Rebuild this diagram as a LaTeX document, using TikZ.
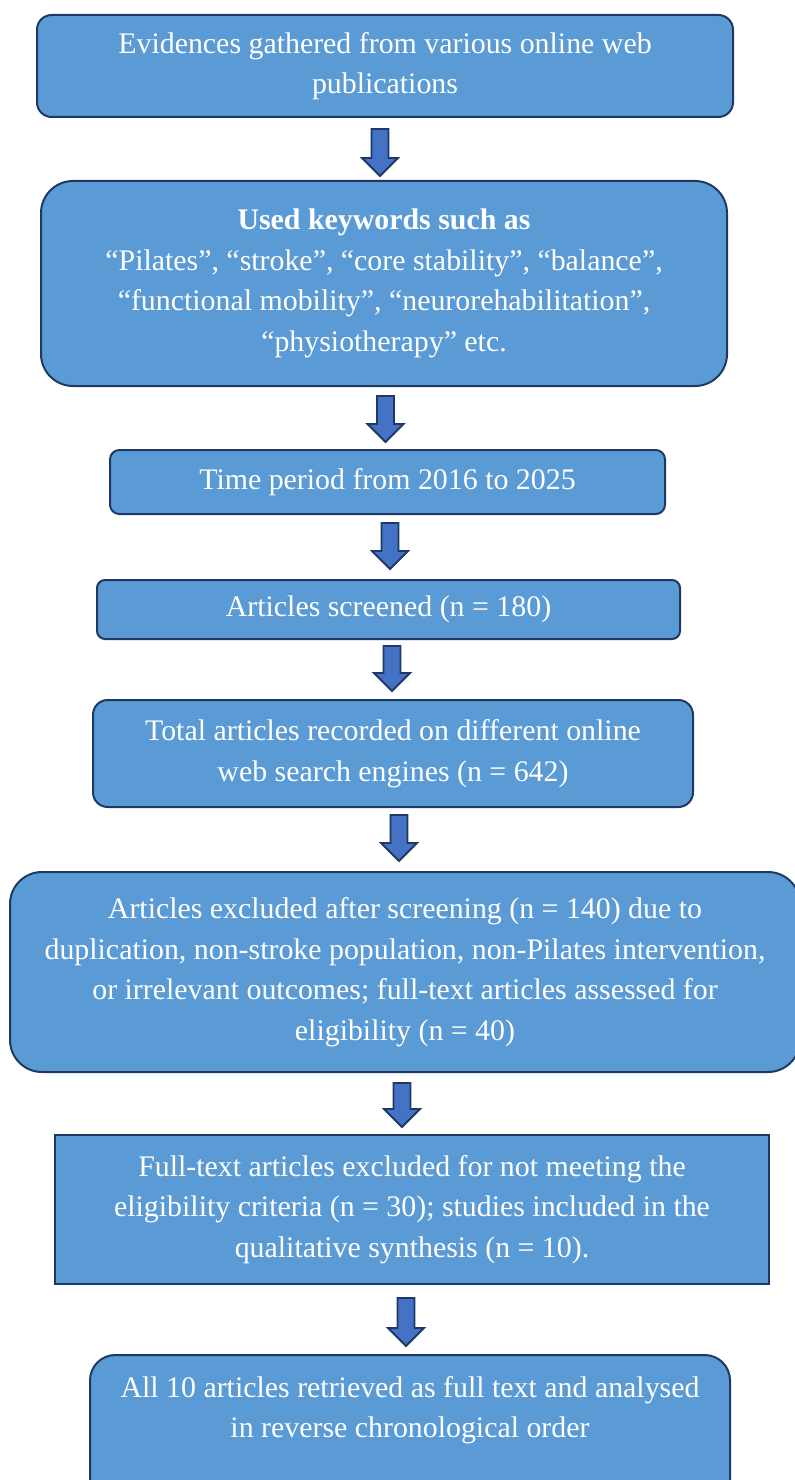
\documentclass[tikz,border=0pt]{standalone}
\usepackage{fontspec}
\setmainfont{Liberation Serif}
\usetikzlibrary{calc}

\definecolor{boxfill}{HTML}{5B9BD5}
\definecolor{boxline}{HTML}{1F3864}
\definecolor{arrowfill}{HTML}{4472C4}

\tikzset{
    flowbox/.style={draw=boxline, fill=boxfill, line width=1.5pt, text=white, align=center,
        inner sep=0pt, font=\fontsize{22.4}{30.4}\selectfont},
    blockarrow/.style={draw=boxline, fill=arrowfill, line width=1.4pt, line join=miter}
}

% block arrow from a top point down to a tip point
\newcommand{\flowarrow}[2]{%
    \draw[blockarrow] let \p1=(#1), \p2=(#2) in
        (\x1-6.4pt,\y1) -- (\x1+6.4pt,\y1) -- (\x1+6.4pt,\y2+13.5pt) -- (\x1+13.5pt,\y2+13.5pt)
        -- (\x1,\y2) -- (\x1-13.5pt,\y2+13.5pt) -- (\x1-6.4pt,\y2+13.5pt) -- cycle;}

\begin{document}
\begin{tikzpicture}[x=0.75pt, y=-0.75pt]
    \useasboundingbox (0,0) rectangle (795,1480);
    \path   node[flowbox, rounded corners=11pt, minimum width=696*0.75pt, minimum height=102*0.75pt] (A) at (385, 66)
                {Evidences gathered from various online web\\publications}
            node[flowbox, rounded corners=24pt, minimum width=686*0.75pt, minimum height=205*0.75pt] (B) at (384, 283.5)
                {\textbf{Used keywords such as}\\“Pilates”, “stroke”, “core stability”, “balance”,\\“functional mobility”, “neurorehabilitation”,\\“physiotherapy” etc.}
            node[flowbox, rounded corners=7pt, minimum width=555*0.75pt, minimum height=64*0.75pt] (C) at (387.5, 482)
                {Time period from 2016 to 2025}
            node[flowbox, rounded corners=6pt, minimum width=583*0.75pt, minimum height=59*0.75pt] (D) at (388.5, 609.5)
                {Articles screened (n = 180)}
            node[flowbox, rounded corners=11pt, minimum width=600*0.75pt, minimum height=107*0.75pt] (E) at (393, 753.5)
                {Total articles recorded on different online\\web search engines (n = 642)}
            node[flowbox, rounded corners=24pt, minimum width=790*0.75pt, minimum height=200*0.75pt] (F) at (405, 972)
                {Articles excluded after screening (n = 140) due to\\duplication, non-stroke population, non-Pilates intervention,\\or irrelevant outcomes; full-text articles assessed for\\eligibility (n = 40)}
            node[flowbox, minimum width=714*0.75pt, minimum height=149*0.75pt] (G) at (412, 1209.5)
                {Full-text articles excluded for not meeting the\\eligibility criteria (n = 30); studies included in the\\qualitative synthesis (n = 10).}
            node[flowbox, rounded corners=19pt, minimum width=640*0.75pt, minimum height=180*0.75pt, anchor=north] (H) at (410, 1354) {}
            node[flowbox, draw=none, fill=none] (Htext) at (410, 1410)
                {All 10 articles retrieved as full text and analysed\\in reverse chronological order};
    \flowarrow{$(A.south)+(-5,11)$}{$(B.north)+(-5,-4)$}
    \flowarrow{$(B.south)+(1.5,9)$}{$(C.north)+(1.5,-7)$}
    \flowarrow{$(C.south)+(2.5,8)$}{$(D.north)+(2.5,-10)$}
    \flowarrow{$(D.south)+(3.5,6)$}{$(E.north)+(3.5,-8)$}
    \flowarrow{$(E.south)+(6,7)$}{$(F.north)+(6,-10)$}
    \flowarrow{$(F.south)+(-3,10)$}{$(G.north)+(-3,-7)$}
    \flowarrow{$(G.south)+(-6,13)$}{$(H.north)+(-6,-8)$}
\end{tikzpicture}
\end{document}
